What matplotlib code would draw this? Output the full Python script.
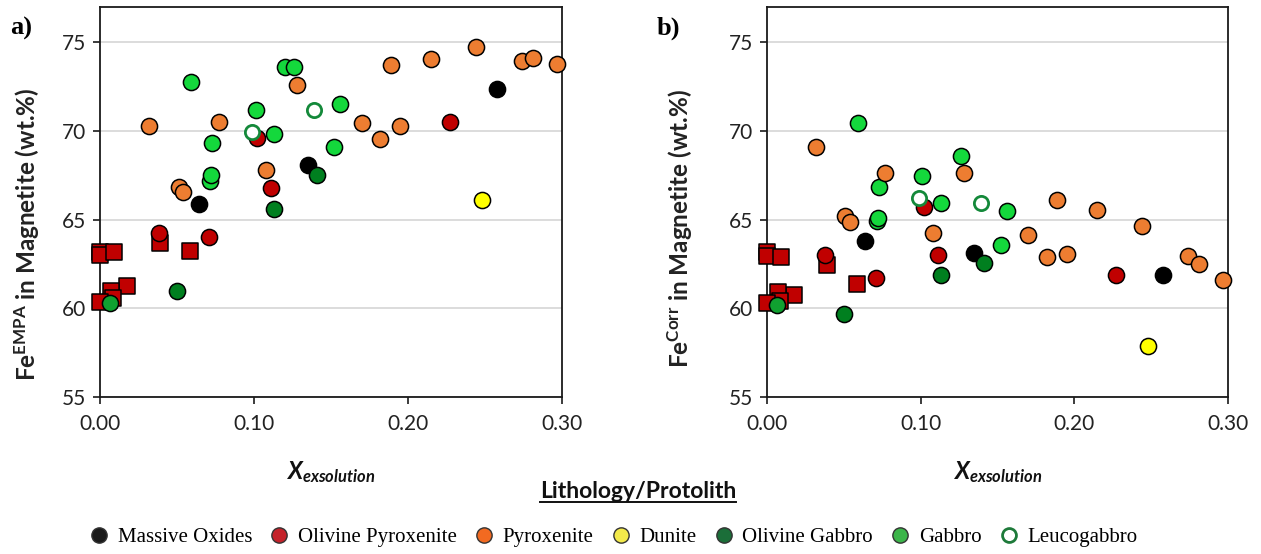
import matplotlib
matplotlib.use("Agg")
import matplotlib.pyplot as plt
from matplotlib.lines import Line2D
from matplotlib.ticker import FormatStrFormatter

plt.rcParams['font.family'] = ['Lato', 'DejaVu Sans']
plt.rcParams['mathtext.fontset'] = 'custom'
plt.rcParams['mathtext.rm'] = 'Lato'
plt.rcParams['mathtext.bf'] = 'Lato:bold'
plt.rcParams['mathtext.it'] = 'Lato:italic'
plt.rcParams['mathtext.bfit'] = 'Lato:bold:italic'

NAN = float('nan')

# --- data (x = X_exsolution, a = Fe EMPA, b = Fe Corr) ---
oxide_x = [0.064, 0.135, 0.258]
oxide_a = [65.9, 68.1, 72.4]
oxide_b = [63.8, 63.1, 61.9]

olpyx_x = [0.038, 0.071, 0.102, 0.111, 0.227]
olpyx_a = [64.25, 64.0, 69.6, 66.8, 70.5]
olpyx_b = [63.0, 61.7, 65.7, 63.0, 61.9]

olpyx_sq_x = [0.0, 0.0, 0.0093, 0.0173, 0.0071, 0.0086, 0.0, 0.0388, 0.0587]
olpyx_sq_a = [63.2, 63.0, 63.16, 61.27, 61.0, 60.58, 60.35, 63.69, 63.24]
olpyx_sq_b = [63.2, 62.93, 62.9, 60.78, 60.9, 60.4, 60.3, 62.46, 61.4]

pyx_x = [0.032, 0.051, 0.054, 0.077, 0.108, 0.128, 0.170, 0.182, 0.195, 0.189,
         0.215, 0.244, 0.274, 0.281, 0.297]
pyx_a = [70.3, 66.85, 66.55, 70.53, 67.8, 72.6, 70.44, 69.53, 70.3, 73.73,
         74.07, 74.75, 73.96, 74.13, 73.81]
pyx_b = [69.1, 65.23, 64.86, 67.66, 64.24, 67.62, 64.11, 62.89, 63.08, 66.12,
         65.56, 64.67, 62.96, 62.49, 61.6]

dunite_x = [0.248]
dunite_a = [66.1]
dunite_b = [57.87]

olgab_x = [0.050, 0.113, 0.141]
olgab_a = [61.0, 65.6, 67.5]
olgab_b = [59.67, 61.89, 62.54]

# one gabbro point is not visible in panel b
gab_x = [0.059, 0.0727, 0.0715, 0.0722, 0.101, 0.113, 0.120, 0.126, 0.156, 0.152]
gab_a = [72.79, 69.34, 67.2, 67.51, 71.21, 69.81, 73.6, 73.6, 71.53, 69.08]
gab_b = [70.48, 66.82, 64.95, 65.12, 67.45, 65.93, NAN, 68.58, 65.5, 63.58]

gab2_x = [0.0065]
gab2_a = [60.3]
gab2_b = [60.18]

leuco_x = [0.099, 0.139]
leuco_a = [69.94, 71.19]
leuco_b = [66.25, 65.93]

legend_labels = ["Massive Oxides", "Olivine Pyroxenite", "Pyroxenite", "Dunite",
                 "Olivine Gabbro", "Gabbro", "Leucogabbro"]
legend_colors = ["#1a1a1a", "#c4222a", "#f26a21", "#f3ea4a", "#1b6e39", "#3cb54a", "none"]

S = 135
EW = 1.1

fig = plt.figure(figsize=(12.61, 5.54), dpi=100)
ax_a = fig.add_axes([0.0793, 0.2834, 0.3664, 0.704])
ax_b = fig.add_axes([0.6082, 0.2834, 0.3656, 0.704])


def draw(ax, key):
    sets = [
        (olpyx_sq_x, olpyx_sq_a, olpyx_sq_b, 's', '#c00000'),
        (oxide_x, oxide_a, oxide_b, 'o', 'black'),
        (olpyx_x, olpyx_a, olpyx_b, 'o', '#c00000'),
        (gab_x, gab_a, gab_b, 'o', '#14d83c'),
        (pyx_x, pyx_a, pyx_b, 'o', '#ed7d31'),
        (dunite_x, dunite_a, dunite_b, 'o', '#ffff00'),
        (olgab_x, olgab_a, olgab_b, 'o', '#007f1f'),
        (gab2_x, gab2_a, gab2_b, 'o', '#10a030'),
    ]
    for x, ya, yb, m, fc in sets:
        y = ya if key == 'a' else yb
        ax.scatter(x, y, s=S, marker=m, facecolor=fc, edgecolor='black',
                   linewidth=EW, zorder=3, clip_on=False)
    y = leuco_a if key == 'a' else leuco_b
    ax.scatter(leuco_x, y, s=105, marker='o', facecolor='white',
               edgecolor='#14893a', linewidth=2.0, zorder=4, clip_on=False)

    ax.set_xlim(0, 0.30)
    ax.set_ylim(55, 77)
    ax.set_xticks([0.0, 0.1, 0.2, 0.3])
    ax.set_yticks([55, 60, 65, 70, 75])
    ax.xaxis.set_major_formatter(FormatStrFormatter('%.2f'))
    ax.yaxis.grid(True, color='#d9d9d9', linewidth=1.3)
    ax.set_axisbelow(True)
    for sp in ax.spines.values():
        sp.set_linewidth(1.3)
        sp.set_color('#1a1a1a')
    ax.tick_params(direction='out', length=5, width=1.2, labelsize=15,
                   labelcolor='#222222', color='#1a1a1a')
    ax.tick_params(axis='x', pad=7)
    ax.tick_params(axis='y', pad=5)
    ax.set_xlabel(r'$\mathbfit{X}_{\mathbfit{exsolution}}$', fontsize=17,
                  color='#111111')
    ax.xaxis.set_label_coords(0.5, -0.16)


draw(ax_a, 'a')
draw(ax_b, 'b')

ax_a.set_ylabel(r'$\mathbf{Fe^{EMPA}}$' + ' in Magnetite (wt.%)', fontsize=17.5,
                fontweight='bold', color='#222222')
ax_a.yaxis.set_label_coords(-0.125, 0.418)
ax_b.set_ylabel(r'$\mathbf{Fe^{Corr}}$' + ' in Magnetite (wt.%)', fontsize=17.5,
                fontweight='bold', color='#222222')
ax_b.yaxis.set_label_coords(-0.157, 0.433)

serif = ['Liberation Serif', 'DejaVu Serif']
fig.text(10 / 1261, 1 - 28 / 554, 'a)', fontsize=19, fontweight='bold',
         family=serif, va='center', ha='left')
fig.text(657 / 1261, 1 - 28 / 554, 'b)', fontsize=19, fontweight='bold',
         family=serif, va='center', ha='left')

title = fig.text(638 / 1261, 1 - 492 / 554, 'Lithology/Protolith', fontsize=16.5,
                 fontweight='bold', ha='center', va='center', color='#111111')

handles = []
for lab, col in zip(legend_labels, legend_colors):
    if col == 'none':
        h = Line2D([], [], linestyle='none', marker='o', markersize=10,
                   markerfacecolor='white', markeredgecolor='#1e7a3a',
                   markeredgewidth=2.0, label=lab)
    else:
        h = Line2D([], [], linestyle='none', marker='o', markersize=11,
                   markerfacecolor=col, markeredgecolor='#333333',
                   markeredgewidth=1.0, label=lab)
    handles.append(h)

fig.legend(handles=handles, loc='center', ncol=7, frameon=False,
           bbox_to_anchor=(613 / 1261, 1 - 537 / 554),
           prop={'family': serif, 'size': 15}, handlelength=1.0,
           handletextpad=0.4, columnspacing=0.8, borderaxespad=0)

# underline for the legend title
fig.canvas.draw()
bb = title.get_window_extent()
W, H = fig.canvas.get_width_height()
fig.add_artist(Line2D([bb.x0 / W, bb.x1 / W], [(bb.y0 + 1) / H, (bb.y0 + 1) / H],
                      transform=fig.transFigure, color='#111111', linewidth=1.4))

fig.savefig('out.png', dpi=100)
